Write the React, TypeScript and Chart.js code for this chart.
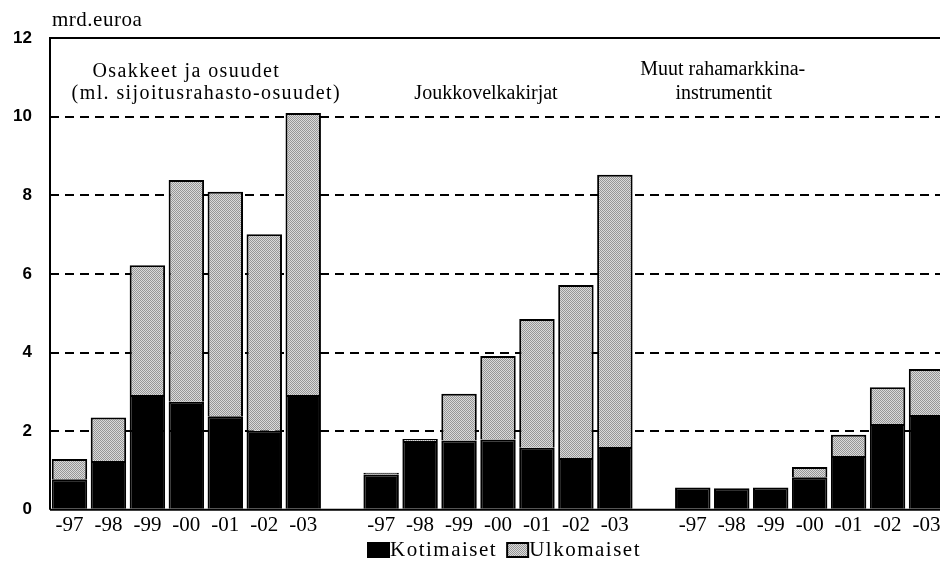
import React, { useEffect, useRef } from "react";
import { Chart, registerables } from "chart.js";

Chart.register(...registerables);

const years = ["-97", "-98", "-99", "-00", "-01", "-02", "-03"];
const yTicks = [0, 2, 4, 6, 8, 10, 12];
const unitLabel = "mrd.euroa";
const groupTitles = [
  ["Osakkeet ja osuudet", "(ml. sijoitusrahasto-osuudet)"],
  ["Joukkovelkakirjat"],
  ["Muut rahamarkkina-", "instrumentit"],
];
const seriesNames = ["Kotimaiset", "Ulkomaiset"];

// Osakkeet ja osuudet
const sharesDomestic = [0.78, 1.24, 2.92, 2.75, 2.38, 2.01, 2.92];
const sharesForeign = [0.51, 1.11, 3.3, 5.64, 5.71, 5.0, 7.17];
// Joukkovelkakirjat
const bondsDomestic = [0.9, 1.75, 1.76, 1.79, 1.58, 1.32, 1.6];
const bondsForeign = [0.04, 0.05, 1.19, 2.12, 3.27, 4.4, 6.92];
// Muut rahamarkkinainstrumentit
const moneyDomestic = [0.57, 0.55, 0.57, 0.83, 1.37, 2.18, 2.41];
const moneyForeign = [0, 0, 0, 0.26, 0.54, 0.94, 1.17];

function joinGroups<T>(groups: T[][], gap: T): T[] {
  const out: T[] = [];
  groups.forEach((g, i) => {
    if (i > 0) out.push(gap);
    out.push(...g);
  });
  return out;
}

const labels = joinGroups([years, years, years], "");
const domestic = joinGroups<number | null>([sharesDomestic, bondsDomestic, moneyDomestic], null);
const foreign = joinGroups<number | null>([sharesForeign, bondsForeign, moneyForeign], null);

function makePattern(): CanvasPattern | string {
  const c = document.createElement("canvas");
  c.width = 2;
  c.height = 2;
  const ctx = c.getContext("2d");
  if (!ctx) return "#b8b8b8";
  ctx.fillStyle = "#dadada";
  ctx.fillRect(0, 0, 2, 2);
  ctx.fillStyle = "#969696";
  ctx.fillRect(0, 0, 1, 1);
  ctx.fillRect(1, 1, 1, 1);
  const p = ctx.createPattern(c, "repeat");
  return p || "#b8b8b8";
}

const SERIF = "'Liberation Serif', 'DejaVu Serif', serif";
const SANS = "'Liberation Sans', Arial, sans-serif";

export default function App() {
  const ref = useRef<HTMLCanvasElement | null>(null);

  useEffect(() => {
    if (!ref.current) return;
    const pattern = makePattern();

    const framePlugin = {
      id: "frame",
      afterDatasetsDraw(chart: any) {
        const { ctx, chartArea } = chart;
        const x = chart.scales.x;
        ctx.save();
        ctx.strokeStyle = "#000";
        ctx.lineWidth = 2;
        ctx.beginPath();
        ctx.moveTo(chartArea.left, chartArea.bottom);
        ctx.lineTo(chartArea.left, chartArea.top);
        ctx.lineTo(chartArea.right, chartArea.top);
        ctx.moveTo(chartArea.left, chartArea.bottom);
        ctx.lineTo(chartArea.right, chartArea.bottom);
        ctx.stroke();

        ctx.fillStyle = "#000";
        ctx.font = "21px " + SERIF;
        ctx.textBaseline = "middle";
        ctx.textAlign = "left";
        (ctx as any).letterSpacing = "0.5px";
        ctx.fillText(unitLabel, chartArea.left + 2, 20);

        ctx.font = "20px " + SERIF;
        ctx.textAlign = "center";
        const top = chartArea.top;
        // group 1
        (ctx as any).letterSpacing = "1.4px";
        const c1 = x.getPixelForValue(3);
        ctx.fillText(groupTitles[0][0], c1, top + 34);
        ctx.fillText(groupTitles[0][1], c1 + 20, top + 56);
        (ctx as any).letterSpacing = "0px";
        // group 2
        const c2 = x.getPixelForValue(11);
        ctx.fillText(groupTitles[1][0], c2 - 12, top + 56);
        // group 3
        const c3 = x.getPixelForValue(17);
        ctx.fillText(groupTitles[2][0], c3 - 9, top + 32);
        ctx.fillText(groupTitles[2][1], c3 - 8, top + 56);

        // legend
        const ds = chart.data.datasets;
        let lx = 368;
        const ly = 550;
        ctx.font = "21px " + SERIF;
        (ctx as any).letterSpacing = "1.5px";
        ctx.textAlign = "left";
        ds.forEach((d: any) => {
          ctx.fillStyle = d.backgroundColor;
          ctx.fillRect(lx, ly - 7, 21, 14);
          ctx.strokeStyle = "#000";
          ctx.lineWidth = 2;
          ctx.strokeRect(lx, ly - 7, 21, 14);
          ctx.fillStyle = "#000";
          ctx.fillText(d.label, lx + 22, ly);
          lx += 22 + ctx.measureText(d.label).width + 10;
        });
        ctx.restore();
      },
    };

    const chart = new Chart(ref.current, {
      type: "bar",
      data: {
        labels,
        datasets: [
          {
            label: seriesNames[0],
            data: domestic,
            backgroundColor: "#000",
            borderColor: "#000",
            borderWidth: 2,
            stack: "s",
          },
          {
            label: seriesNames[1],
            data: foreign,
            backgroundColor: pattern as any,
            borderColor: "#000",
            borderWidth: 2,
            stack: "s",
          },
        ],
      },
      options: {
        responsive: false,
        animation: false,
        layout: { padding: { top: 38, right: 58, left: 0, bottom: 20 } },
        datasets: { bar: { barPercentage: 0.91, categoryPercentage: 1 } },
        plugins: {
          legend: { display: false },
          tooltip: { enabled: false },
          title: { display: false },
        },
        scales: {
          x: {
            stacked: true,
            grid: { display: false, drawTicks: false },
            border: { display: false },
            ticks: {
              color: "#000",
              padding: 3,
              autoSkip: false,
              maxRotation: 0,
              font: { family: SERIF, size: 21 },
            },
          },
          y: {
            stacked: true,
            min: 0,
            max: 12,
            afterBuildTicks: (scale: any) => {
              scale.ticks = yTicks.map((v) => ({ value: v }));
            },
            afterFit: (scale: any) => {
              scale.width = 50;
            },
            grid: {
              drawTicks: false,
              color: (ctx: any) =>
                ctx.tick && (ctx.tick.value === 0 || ctx.tick.value === 12) ? "rgba(0,0,0,0)" : "#000",
              lineWidth: 2,
            },
            border: { display: false, dash: [9, 6] },
            ticks: {
              color: "#000",
              padding: 18,
              font: { family: SANS, size: 17, weight: "bold" },
            },
          },
        },
      },
      plugins: [framePlugin],
    });
    return () => chart.destroy();
  }, []);

  return (
    <div style={{ position: "fixed", left: 0, top: 0, width: 940, height: 561, overflow: "hidden", background: "#fff" }}>
      <canvas ref={ref} width={1004} height={561} style={{ display: "block" }} />
    </div>
  );
}
